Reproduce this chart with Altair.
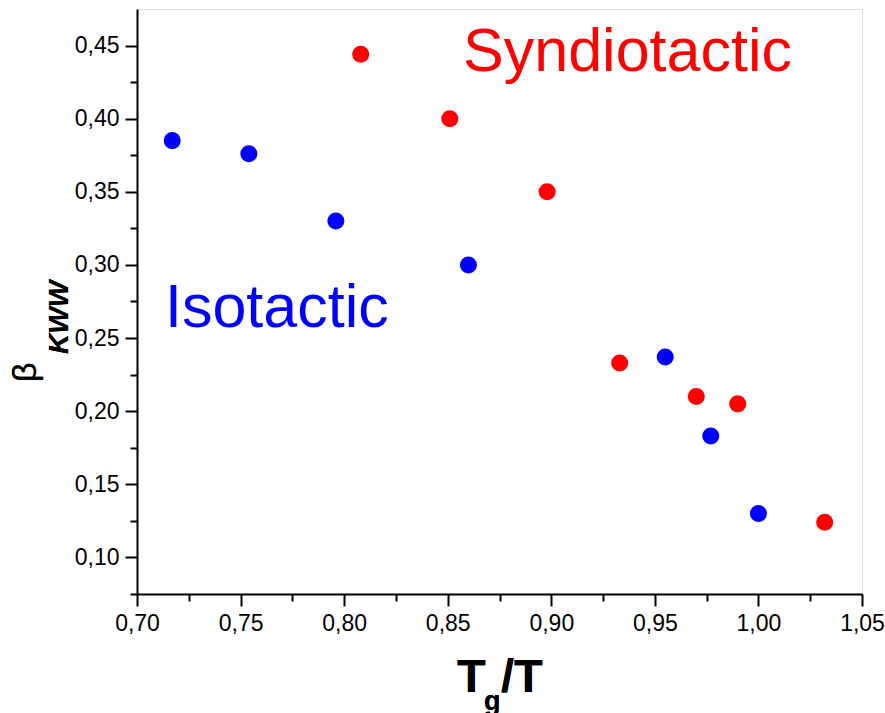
import altair as alt
import pandas as pd

# Data
iso_x = [0.717, 0.754, 0.796, 0.860, 0.955, 0.977, 1.000]
iso_y = [0.385, 0.376, 0.330, 0.300, 0.237, 0.183, 0.130]
syn_x = [0.808, 0.851, 0.898, 0.933, 0.970, 0.990, 1.032]
syn_y = [0.444, 0.400, 0.350, 0.233, 0.210, 0.205, 0.124]

x_major = [0.70, 0.75, 0.80, 0.85, 0.90, 0.95, 1.00, 1.05]
x_minor = [0.725, 0.775, 0.825, 0.875, 0.925, 0.975, 1.025]
y_major = [0.10, 0.15, 0.20, 0.25, 0.30, 0.35, 0.40, 0.45]
y_minor = [0.075, 0.125, 0.175, 0.225, 0.275, 0.325, 0.375, 0.425]

labels = ["Isotactic", "Syndiotactic"]
label_x = [0.7135, 0.8574]
label_y = [0.2575, 0.4323]

df = pd.DataFrame({
    "x": iso_x + syn_x,
    "y": iso_y + syn_y,
    "series": ["Isotactic"] * len(iso_x) + ["Syndiotactic"] * len(syn_x),
})
ann = pd.DataFrame({"x": label_x, "y": label_y, "series": labels})

FONT = "Liberation Sans"
xs = alt.Scale(domain=[0.70, 1.05], nice=False, zero=False)
ys = alt.Scale(domain=[0.075, 0.475], nice=False, zero=False)
cs = alt.Scale(domain=labels, range=["#0000FF", "#FF0000"])
lab = "replace(format(datum.value, '.2f'), '.', ',')"

common_axis = dict(grid=False, domainColor="black", domainWidth=2, tickColor="black",
                   tickWidth=2, labelFont=FONT, labelFontSize=23, labelColor="black")

points = alt.Chart(df).mark_circle(size=290, opacity=1).encode(
    x=alt.X("x:Q", scale=xs, axis=alt.Axis(values=x_major, labelExpr=lab, tickSize=12,
                                            labelPadding=6, orient="bottom", title=None,
                                            labelFlush=False, labelOverlap=False, **common_axis)),
    y=alt.Y("y:Q", scale=ys, axis=alt.Axis(values=y_major, labelExpr=lab, tickSize=12,
                                            labelPadding=6, orient="left", title=None,
                                            labelFlush=False, labelOverlap=False, **common_axis)),
    color=alt.Color("series:N", scale=cs, legend=None),
)

minor = alt.Chart(df).mark_circle(opacity=0).encode(
    x=alt.X("x:Q", scale=xs, axis=alt.Axis(values=x_minor, labels=False, domain=False,
                                            tickSize=7, orient="bottom", title=None,
                                            grid=False, tickColor="black", tickWidth=2)),
    y=alt.Y("y:Q", scale=ys, axis=alt.Axis(values=y_minor, labels=False, domain=False,
                                            tickSize=7, orient="left", title=None,
                                            grid=False, tickColor="black", tickWidth=2)),
)

series_labels = alt.Chart(ann).mark_text(font=FONT, fontSize=61, align="left",
                                         baseline="alphabetic").encode(
    x=alt.X("x:Q", scale=xs, axis=None),
    y=alt.Y("y:Q", scale=ys, axis=None),
    text="series:N",
    color=alt.Color("series:N", scale=cs, legend=None),
)

# axis titles (pixel positions relative to plot origin)
t1 = alt.Chart(ann).mark_text(text="T", font=FONT, fontSize=47, fontWeight="bold", color="black",
                              align="left", baseline="alphabetic").encode(
    x=alt.value(320), y=alt.value(683))
t2 = alt.Chart(ann).mark_text(text="g", font=FONT, fontSize=27, fontWeight="bold", color="black",
                              align="left", baseline="alphabetic").encode(
    x=alt.value(347), y=alt.value(701))
t3 = alt.Chart(ann).mark_text(text="/T", font=FONT, fontSize=47, fontWeight="bold", color="black",
                              align="left", baseline="alphabetic").encode(
    x=alt.value(364), y=alt.value(683))
b1 = alt.Chart(ann).mark_text(text="β", font=FONT, fontSize=34, color="black", angle=270,
                              align="left", baseline="alphabetic").encode(
    x=alt.value(-101), y=alt.value(373))
b2 = alt.Chart(ann).mark_text(text="KWW", font=FONT, fontSize=28, fontWeight="bold",
                              fontStyle="italic", color="black", angle=270,
                              align="left", baseline="alphabetic").encode(
    x=alt.value(-69), y=alt.value(345))

chart = alt.layer(minor, points, series_labels, t1, t2, t3, b1, b2).resolve_axis(
    x="independent", y="independent"
).properties(
    width=725, height=585,
    autosize=alt.AutoSizeParams(type="none"),
    padding={"left": 137, "top": 9, "right": 23, "bottom": 119},
).configure_view(stroke=None).configure(background="white")

chart.save("out.html", embed_options={"renderer": "svg", "actions": False})
